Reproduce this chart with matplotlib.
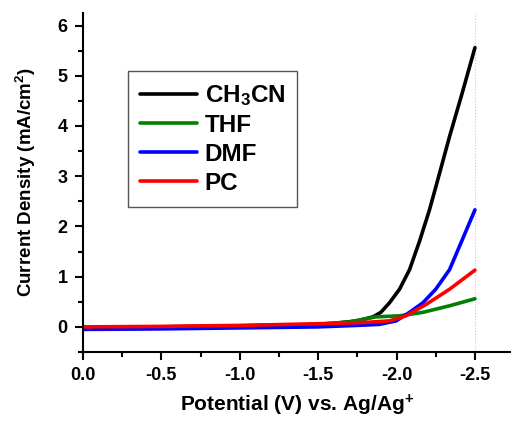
import matplotlib
matplotlib.use("Agg")
import matplotlib.pyplot as plt
from matplotlib.ticker import MultipleLocator

plt.rcParams['font.family'] = ['Liberation Sans', 'DejaVu Sans']
plt.rcParams['font.weight'] = 'bold'
plt.rcParams['mathtext.fontset'] = 'custom'
plt.rcParams['mathtext.rm'] = 'Liberation Sans:bold'
plt.rcParams['mathtext.bf'] = 'Liberation Sans:bold'
plt.rcParams['mathtext.it'] = 'Liberation Sans:bold'

labels = [r'CH$_\mathbf{3}$CN', 'THF', 'DMF', 'PC']
colors = ['#000000', '#008000', '#0000ff', '#ff0000']

v_ch3cn = [0.0, -0.5, -1.0, -1.4, -1.6, -1.75, -1.85, -1.90, -1.955, -2.019, -2.083, -2.146, -2.21, -2.263, -2.338, -2.42, -2.5]
j_ch3cn = [-0.02, 0.0, 0.02, 0.04, 0.07, 0.12, 0.2, 0.29, 0.48, 0.75, 1.14, 1.7, 2.33, 2.93, 3.79, 4.67, 5.56]

v_thf = [0.0, -0.5, -1.0, -1.5, -1.7, -1.785, -1.87, -2.019, -2.168, -2.338, -2.5]
j_thf = [-0.01, 0.0, 0.02, 0.05, 0.1, 0.15, 0.2, 0.22, 0.29, 0.42, 0.56]

v_dmf = [0.0, -0.5, -1.0, -1.5, -1.75, -1.89, -1.998, -2.083, -2.168, -2.25, -2.338, -2.42, -2.5]
j_dmf = [-0.05, -0.04, -0.02, 0.0, 0.03, 0.05, 0.12, 0.29, 0.48, 0.75, 1.14, 1.74, 2.33]

v_pc = [0.0, -0.5, -1.0, -1.467, -1.7, -1.807, -1.955, -2.06, -2.19, -2.338, -2.5]
j_pc = [0.0, 0.01, 0.03, 0.06, 0.08, 0.09, 0.12, 0.22, 0.45, 0.75, 1.13]

series = [(v_ch3cn, j_ch3cn), (v_thf, j_thf), (v_dmf, j_dmf), (v_pc, j_pc)]

fig = plt.figure(figsize=(5.11, 4.21), dpi=100)
ax = fig.add_axes([83/511, (421-352)/421, (511-83)/511, (352-13)/421])

lines = []
for (v, j), c, lab in zip(series, colors, labels):
    ln, = ax.plot(v, j, color=c, lw=2.6, label=lab,
                  solid_capstyle='round', solid_joinstyle='round')
    lines.append(ln)

ax.axvline(-2.5, color='#c8c8c8', lw=0.8, ls=':', zorder=0)

ax.set_xlim(0, -2.73)
ax.set_ylim(-0.5, 6.25)
ax.xaxis.set_minor_locator(MultipleLocator(0.25))
ax.yaxis.set_minor_locator(MultipleLocator(0.5))
ax.set_xticks([0.0, -0.5, -1.0, -1.5, -2.0, -2.5])
ax.set_xticklabels(['0.0', '-0.5', '-1.0', '-1.5', '-2.0', '-2.5'])
ax.set_yticks([0, 1, 2, 3, 4, 5, 6])

for s in ['top', 'right']:
    ax.spines[s].set_visible(False)
for s in ['left', 'bottom']:
    ax.spines[s].set_linewidth(1.5)
ax.tick_params(which='major', direction='out', length=6, width=1.5, labelsize=13, pad=5)
ax.tick_params(which='minor', direction='out', length=3.5, width=1.5)

ax.set_xlabel(r'Potential (V) vs. Ag/Ag$^{\mathbf{+}}$', fontsize=15, fontweight='bold', labelpad=6)
ax.set_ylabel(r'Current Density (mA/cm$^{\mathbf{2}}$)', fontsize=13.5, fontweight='bold', labelpad=14)

leg = fig.legend(handles=lines, loc='upper left', bbox_to_anchor=(128/511, 1-71/421),
                 bbox_transform=fig.transFigure, borderaxespad=0, fancybox=False,
                 edgecolor='#555555', framealpha=1, prop={'size': 17.5, 'weight': 'bold'},
                 handlelength=2.35, handletextpad=0.3, labelspacing=0.24, borderpad=0.5)
leg.get_frame().set_linewidth(1.0)
for ln in leg.get_lines():
    ln.set_linewidth(2.6)

fig.savefig('out.png', dpi=100)
